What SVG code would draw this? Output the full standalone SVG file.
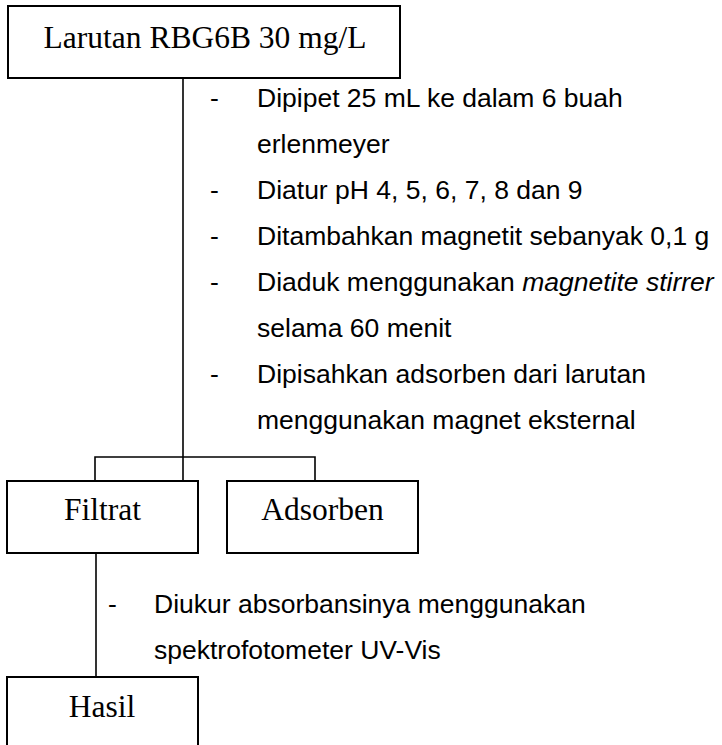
<svg xmlns="http://www.w3.org/2000/svg" width="722" height="745" viewBox="0 0 722 745">
<style>
.box{fill:#fff;stroke:#000;stroke-width:2}
.con{fill:none;stroke:#000;stroke-width:1.6}
.nt{font-family:"Liberation Serif","Times New Roman",serif;font-size:31.5px;fill:#000;text-anchor:middle}
.st{font-family:"Liberation Sans",Arial,sans-serif;font-size:26.5px;fill:#000}
</style>
<rect width="722" height="745" fill="#fff"/>
<g id="connectors">
<line class="con" x1="183" y1="78" x2="183" y2="481"/>
<polyline class="con" points="95,481 95,457 315,457 315,481"/>
<line class="con" x1="96" y1="553" x2="96" y2="677"/>
</g>
<g id="node-larutan">
<rect class="box" x="8" y="6" width="392" height="72"/>
<text class="nt" x="205" y="48">Larutan RBG6B 30 mg/L</text>
</g>
<g id="steps-1" class="st">
<text x="210" y="107">-</text><text x="257" y="107">Dipipet 25 mL ke dalam 6 buah</text>
<text x="257" y="153">erlenmeyer</text>
<text x="210" y="199">-</text><text x="257" y="199">Diatur pH 4, 5, 6, 7, 8 dan 9</text>
<text x="210" y="245">-</text><text x="257" y="245">Ditambahkan magnetit sebanyak 0,1 g</text>
<text x="210" y="291">-</text><text x="257" y="291">Diaduk menggunakan <tspan font-style="italic">magnetite stirrer</tspan></text>
<text x="257" y="337">selama 60 menit</text>
<text x="210" y="383">-</text><text x="257" y="383">Dipisahkan adsorben dari larutan</text>
<text x="257" y="429">menggunakan magnet eksternal</text>
</g>
<g id="node-filtrat">
<rect class="box" x="7" y="481" width="191" height="72"/>
<text class="nt" x="102.5" y="520">Filtrat</text>
</g>
<g id="node-adsorben">
<rect class="box" x="227" y="481" width="191" height="72"/>
<text class="nt" x="322.5" y="520">Adsorben</text>
</g>
<g id="steps-2" class="st">
<text x="108" y="613">-</text><text x="154" y="613">Diukur absorbansinya menggunakan</text>
<text x="154" y="659">spektrofotometer UV-Vis</text>
</g>
<g id="node-hasil">
<rect class="box" x="7" y="677" width="191" height="90"/>
<text class="nt" x="102" y="717">Hasil</text>
</g>
</svg>
